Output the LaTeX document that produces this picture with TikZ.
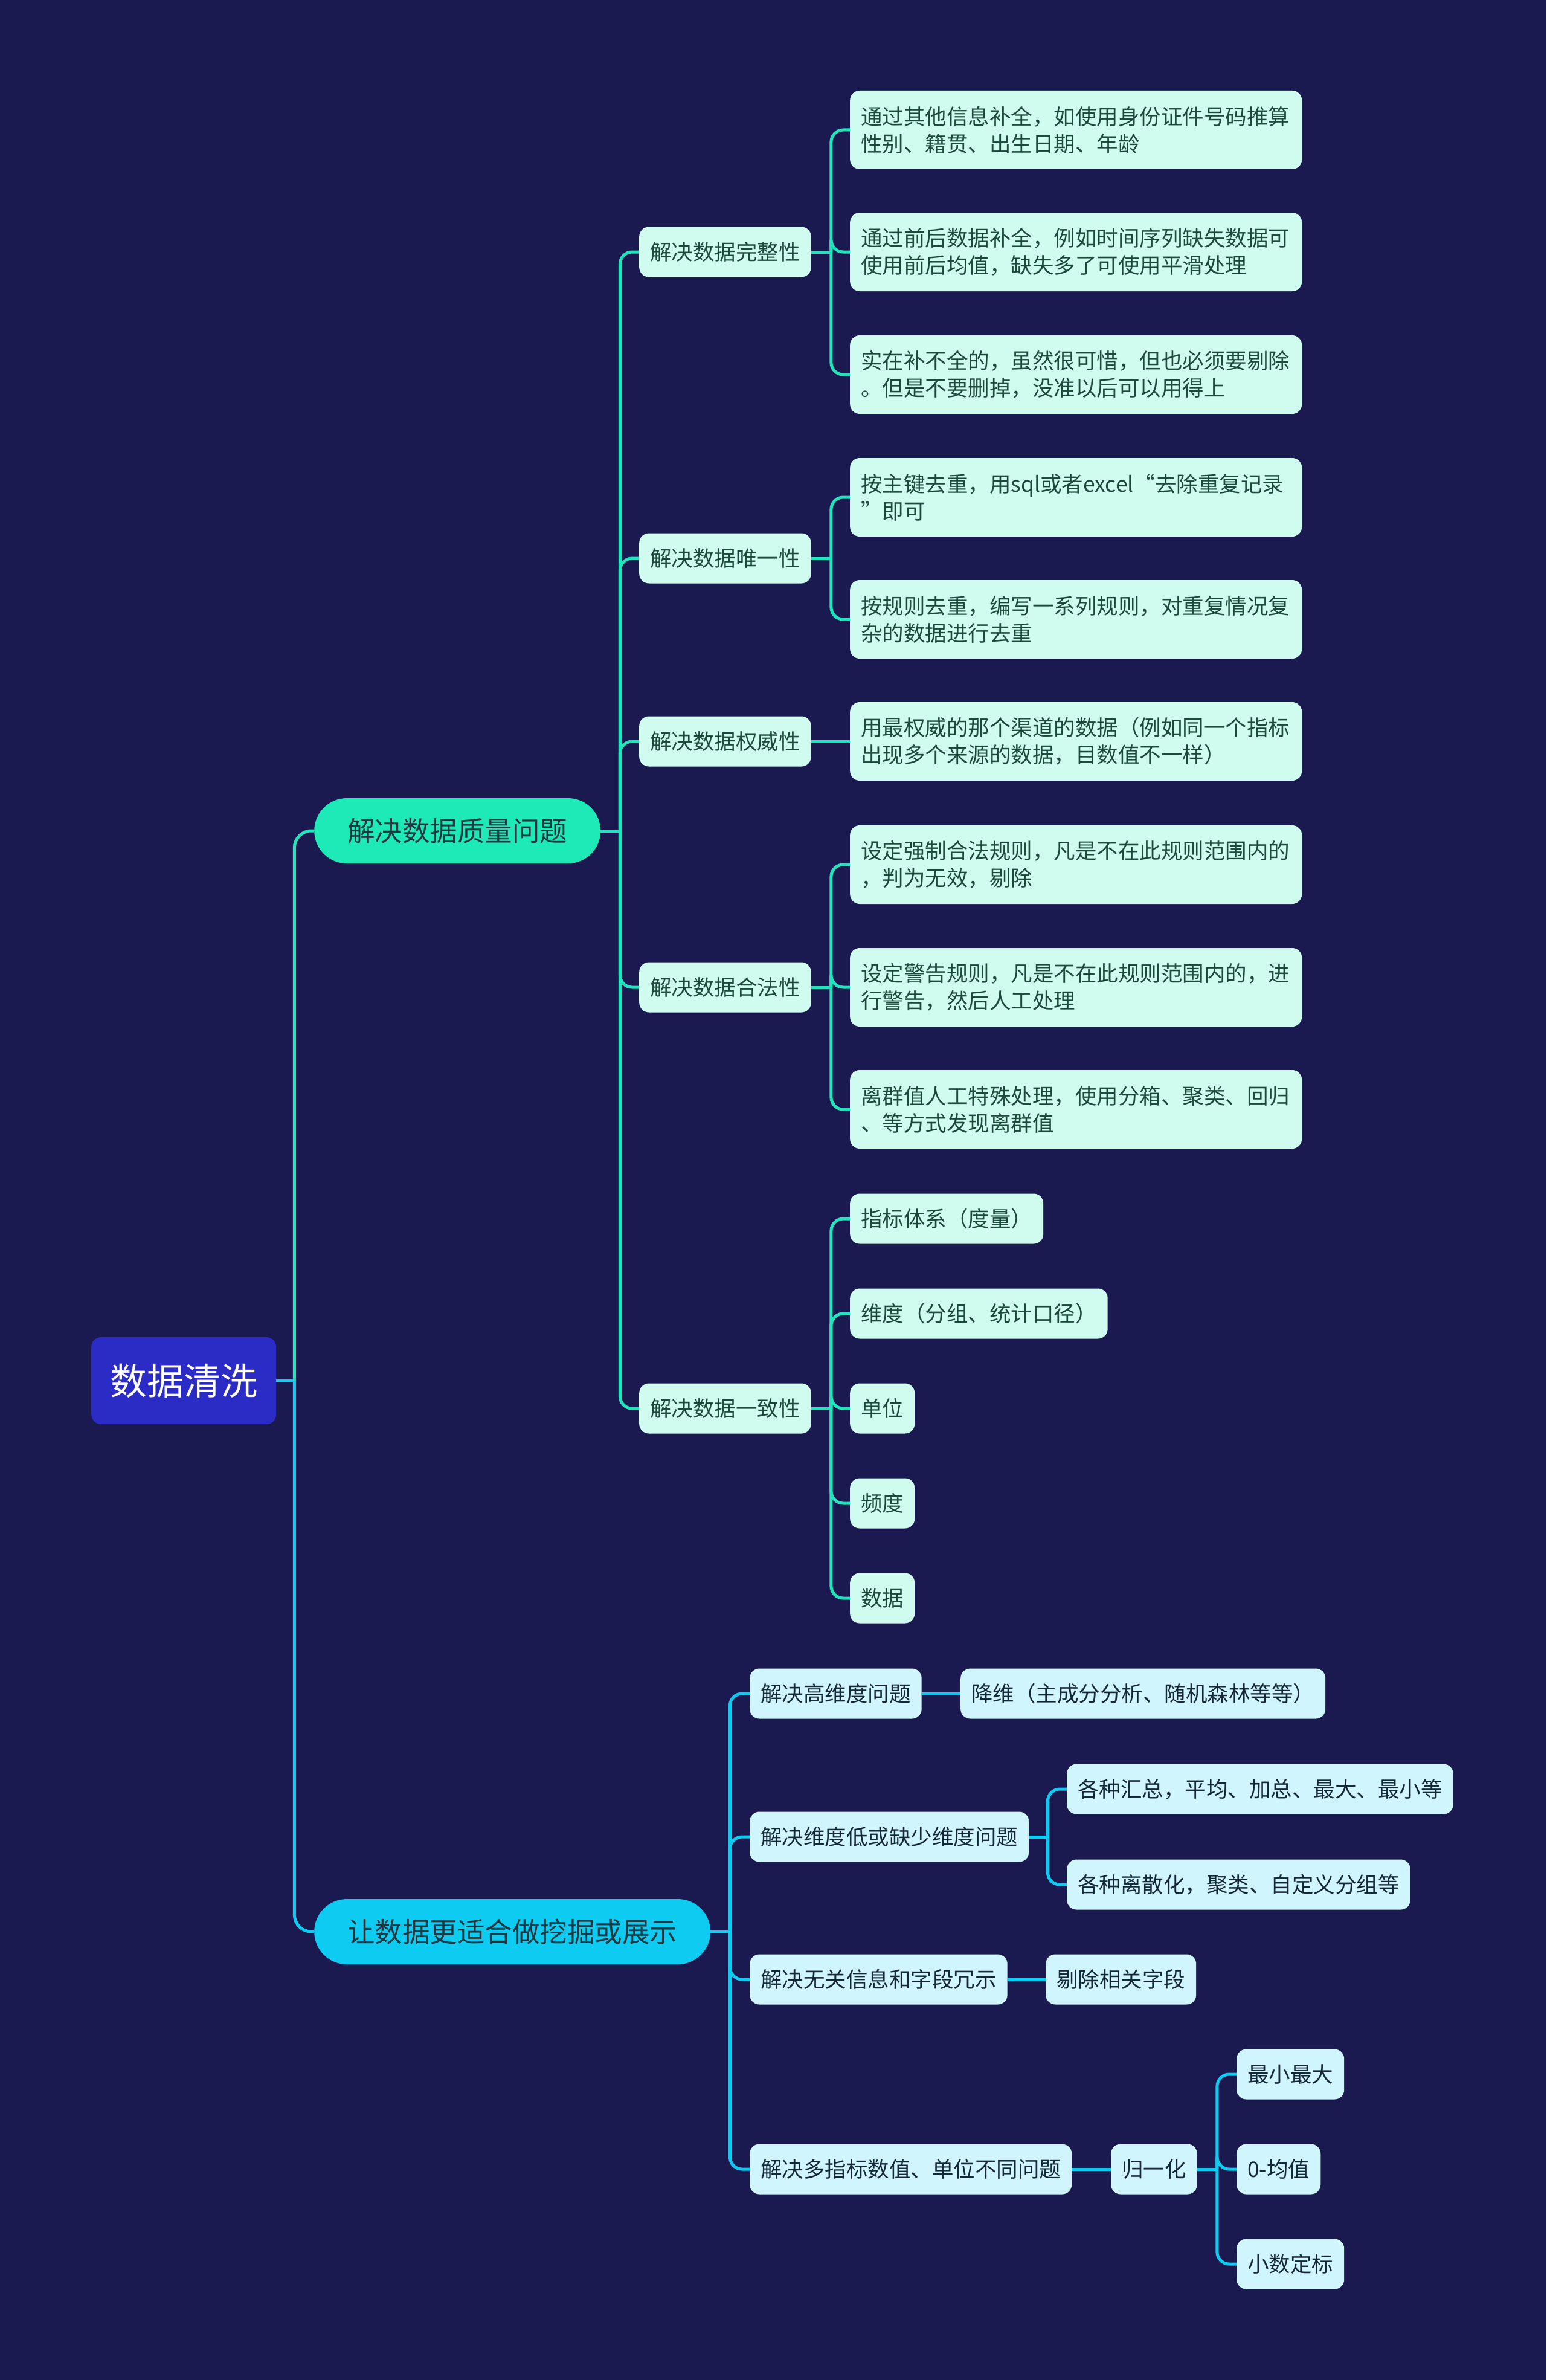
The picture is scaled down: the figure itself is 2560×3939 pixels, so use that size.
\documentclass[tikz,border=0pt]{standalone}
\usepackage{fontspec}
\setmainfont{Noto Sans CJK SC}
\usetikzlibrary{calc}
\definecolor{bgc}{HTML}{1A1950}
\definecolor{rootc}{HTML}{2B2BC6}
\definecolor{tealc}{HTML}{22E4BC}
\definecolor{pillA}{HTML}{1EEAB8}
\definecolor{cyanc}{HTML}{0ECBF2}
\definecolor{mint}{HTML}{D0FCEF}
\definecolor{lcyan}{HTML}{D0F5FC}
\definecolor{gtext}{HTML}{1B4A3C}
\definecolor{ctext}{HTML}{15283A}
\definecolor{ptext}{HTML}{1C3840}
\tikzset{
  rootbox/.style={fill=rootc, text=white, rounded corners=16pt, inner xsep=31pt, inner ysep=0pt,
    minimum height=144pt, anchor=west, font=\fontsize{61}{70}\selectfont},
  pillbox/.style={rounded corners=54pt, inner xsep=55pt, inner ysep=0pt, minimum height=108pt,
    anchor=west, text=ptext, font=\fontsize{45.5}{52}\selectfont},
  basebox/.style={rounded corners=16pt, inner xsep=18pt, inner ysep=0pt, minimum height=83pt,
    anchor=west, align=left, font=\fontsize{35.5}{45}\selectfont},
  gbox/.style={basebox, fill=mint, text=gtext},
  cbox/.style={basebox, fill=lcyan, text=ctext},
  widebox/.style={text width=712pt, minimum height=130pt},
  lineA/.style={draw=tealc, line width=5pt},
  lineB/.style={draw=cyanc, line width=5pt},
}
\begin{document}
\begin{tikzpicture}[x=1pt,y=-1pt]
\useasboundingbox (0,0) rectangle (2560,3939);
\fill[bgc] (0,0) rectangle (2560,3939);

% root and main branches
\node[rootbox] (root) at (151,2285) {数据清洗};
\node[pillbox, fill=pillA] (p1) at (520,1375) {解决数据质量问题};
\node[pillbox, fill=cyanc] (p2) at (520,3197) {让数据更适合做挖掘或展示};

% branch 1, level 2
\node[gbox] (a1) at (1058,417) {解决数据完整性};
\node[gbox] (a2) at (1058,924) {解决数据唯一性};
\node[gbox] (a3) at (1058,1227) {解决数据权威性};
\node[gbox] (a4) at (1058,1634) {解决数据合法性};
\node[gbox] (a5) at (1058,2331) {解决数据一致性};

% branch 1, level 3
\node[gbox, widebox] (a11) at (1407,215) {通过其他信息补全，如使用身份证件号码推算\\性别、籍贯、出生日期、年龄};
\node[gbox, widebox] (a12) at (1407,417) {通过前后数据补全，例如时间序列缺失数据可\\使用前后均值，缺失多了可使用平滑处理};
\node[gbox, widebox] (a13) at (1407,620) {实在补不全的，虽然很可惜，但也必须要剔除\\。但是不要删掉，没准以后可以用得上};
\node[gbox, widebox] (a21) at (1407,823) {按主键去重，用sql或者excel“去除重复记录\\”即可};
\node[gbox, widebox] (a22) at (1407,1025) {按规则去重，编写一系列规则，对重复情况复\\杂的数据进行去重};
\node[gbox, widebox] (a31) at (1407,1227) {用最权威的那个渠道的数据（例如同一个指标\\出现多个来源的数据，目数值不一样）};
\node[gbox, widebox] (a41) at (1407,1431) {设定强制合法规则，凡是不在此规则范围内的\\，判为无效，剔除};
\node[gbox, widebox] (a42) at (1407,1634) {设定警告规则，凡是不在此规则范围内的，进\\行警告，然后人工处理};
\node[gbox, widebox] (a43) at (1407,1836) {离群值人工特殊处理，使用分箱、聚类、回归\\、等方式发现离群值};
\node[gbox] (a51) at (1407,2017) {指标体系（度量）};
\node[gbox] (a52) at (1407,2174) {维度（分组、统计口径）};
\node[gbox] (a53) at (1407,2331) {单位};
\node[gbox] (a54) at (1407,2488) {频度};
\node[gbox] (a55) at (1407,2645) {数据};

% branch 2
\node[cbox] (b1) at (1241,2803) {解决高维度问题};
\node[cbox] (b2) at (1241,3040) {解决维度低或缺少维度问题};
\node[cbox] (b3) at (1241,3276) {解决无关信息和字段冗示};
\node[cbox] (b4) at (1241,3590) {解决多指标数值、单位不同问题};
\node[cbox] (b11) at (1590,2803) {降维（主成分分析、随机森林等等）};
\node[cbox] (b21) at (1766,2961) {各种汇总，平均、加总、最大、最小等};
\node[cbox] (b22) at (1766,3119) {各种离散化，聚类、自定义分组等};
\node[cbox] (b31) at (1731,3276) {剔除相关字段};
\node[cbox] (b41) at (1839,3590) {归一化};
\node[cbox] (b411) at (2047,3433) {最小最大};
\node[cbox] (b412) at (2047,3590) {0-均值};
\node[cbox] (b413) at (2047,3747) {小数定标};

% connectors: root
\draw[lineB] (root.east) -- ++(30,0) coordinate (jr);
\draw[lineA, rounded corners=28pt] (jr) |- (p1.west);
\draw[lineB, rounded corners=28pt] (jr) |- (p2.west);

% connectors: branch 1
\draw[lineA] (p1.east) -- ++(32,0) coordinate (jp1);
\foreach \c in {a1,a2,a3,a4,a5} \draw[lineA, rounded corners=20pt] (jp1) |- (\c.west);
\draw[lineA] (a1.east) -- ++(33,0) coordinate (ja1);
\foreach \c in {a11,a12,a13} \draw[lineA, rounded corners=20pt] (ja1) |- (\c.west);
\draw[lineA] (a2.east) -- ++(33,0) coordinate (ja2);
\foreach \c in {a21,a22} \draw[lineA, rounded corners=20pt] (ja2) |- (\c.west);
\draw[lineA] (a3.east) -- (a31.west);
\draw[lineA] (a4.east) -- ++(33,0) coordinate (ja4);
\foreach \c in {a41,a42,a43} \draw[lineA, rounded corners=20pt] (ja4) |- (\c.west);
\draw[lineA] (a5.east) -- ++(33,0) coordinate (ja5);
\foreach \c in {a51,a52,a53,a54,a55} \draw[lineA, rounded corners=20pt] (ja5) |- (\c.west);

% connectors: branch 2
\draw[lineB] (p2.east) -- ++(32,0) coordinate (jp2);
\foreach \c in {b1,b2,b3,b4} \draw[lineB, rounded corners=20pt] (jp2) |- (\c.west);
\draw[lineB] (b1.east) -- (b11.west);
\draw[lineB] (b2.east) -- ++(31,0) coordinate (jb2);
\foreach \c in {b21,b22} \draw[lineB, rounded corners=20pt] (jb2) |- (\c.west);
\draw[lineB] (b3.east) -- (b31.west);
\draw[lineB] (b4.east) -- (b41.west);
\draw[lineB] (b41.east) -- ++(33,0) coordinate (jb41);
\foreach \c in {b411,b412,b413} \draw[lineB, rounded corners=20pt] (jb41) |- (\c.west);
\end{tikzpicture}
\end{document}
